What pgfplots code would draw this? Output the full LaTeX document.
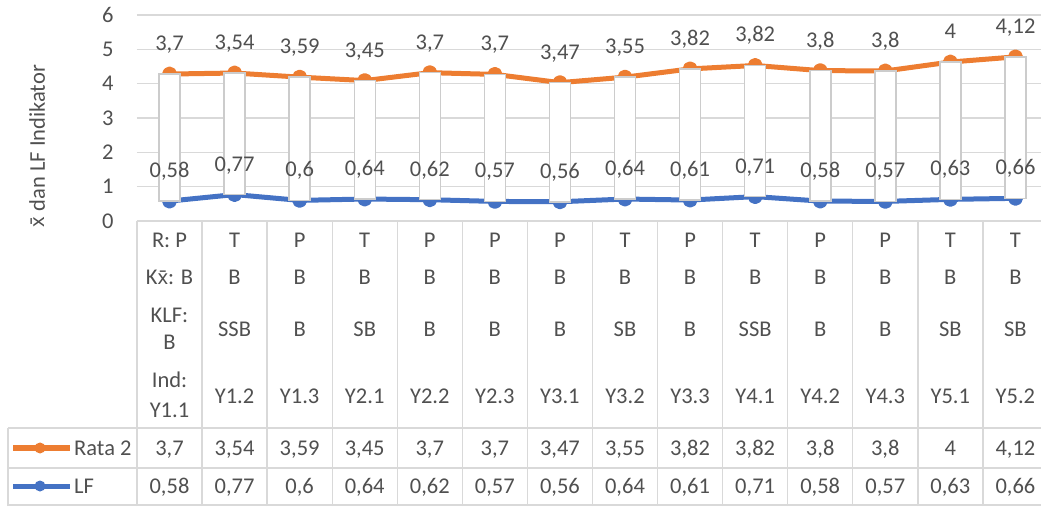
\documentclass[border=0pt]{standalone}
\usepackage{fontspec}
\setmainfont{Carlito}
\newfontfamily\xfont{Noto Sans}
\usepackage{pgfplots}
\pgfplotsset{compat=1.18}
\usepackage{pgfplotstable}
\definecolor{txt}{HTML}{505050}
\definecolor{grd}{HTML}{D9D9D9}
\definecolor{bord}{HTML}{CCCCCC}
\definecolor{org}{HTML}{ED7D31}
\definecolor{blu}{HTML}{4472C4}
\newcommand{\xbar}{{\xfont\fontsize{20}{24}\selectfont x̄}}

\pgfplotstableread{
x lf r lfl rl
0 0.58 3.70 0,58 3,7
1 0.77 3.54 0,77 3,54
2 0.60 3.59 0,6 3,59
3 0.64 3.45 0,64 3,45
4 0.62 3.70 0,62 3,7
5 0.57 3.70 0,57 3,7
6 0.56 3.47 0,56 3,47
7 0.64 3.55 0,64 3,55
8 0.61 3.82 0,61 3,82
9 0.71 3.82 0,71 3,82
10 0.58 3.80 0,58 3,8
11 0.57 3.80 0,57 3,8
12 0.63 4.00 0,63 4
13 0.66 4.12 0,66 4,12
}\data

\pgfplotsset{
  geom/.style={at={(137pt,285pt)}, anchor=south west, scale only axis,
    width=911pt, height=206pt, xmin=-0.5, xmax=13.5, ymin=0, ymax=6, clip=false},
}

\begin{document}
\begin{tikzpicture}[x=1pt,y=1pt, font=\fontsize{22.5}{27}\selectfont, text=txt]
\path[use as bounding box] (0,0) rectangle (1041,506);
\begin{scope}
\clip (0,0) rectangle (1041,506);
% axis A: grid, ticks, lines
\begin{axis}[geom,
  ytick={0,...,6}, xtick=\empty,
  axis line style={draw=none}, major tick length=0pt,
  ymajorgrids, grid style={grd, line width=1.3pt},
  yticklabel style={text=txt, anchor=east, xshift=-20pt},
  /pgf/number format/assume math mode=true,
  ylabel={\xbar\ dan LF Indikator},
  every axis y label/.style={at={(rel axis cs:-0.101,0.364)}, rotate=90, anchor=base, text=txt},
  stack plots=y]
\addplot[blu, line width=5pt, line join=round, mark=*, mark size=5pt, mark options={fill=blu, draw=none}] table[x=x, y=lf]{\data};
\addplot[org, line width=5pt, line join=round, mark=*, mark size=5pt, mark options={fill=org, draw=none}] table[x=x, y=r]{\data};
\end{axis}
% axis B: up/down bars
\begin{axis}[geom, hide axis, ybar stacked, bar width=21pt]
\addplot[draw=none, fill=none] table[x=x, y=lf]{\data};
\addplot[draw=bord, fill=white, line width=1.5pt] table[x=x, y=r]{\data};
\end{axis}
% axis C: data labels
\begin{axis}[geom, hide axis, stack plots=y, nodes near coords, point meta=explicit symbolic,
  every node near coord/.style={anchor=base, yshift=23.5pt, text=txt, font=\fontsize{22.5}{27}\selectfont}]
\addplot[draw=none, no marks] table[x=x, y=lf, meta=lfl]{\data};
\addplot[draw=none, no marks] table[x=x, y=r, meta=rl]{\data};
\end{axis}
% data table grid
\begin{scope}[draw=grd, line width=1.3pt]
\foreach \i in {0,...,14} \draw (137+65.07*\i,0) -- (137+65.07*\i,285);
\draw (8,78) -- (1041,78);
\draw (8,38) -- (1041,38);
\draw (8,1) -- (1041,1);
\draw (8,0) -- (8,78);
\end{scope}
% header cells
\node[anchor=base] at (169.5,258) {R: P};
\node[anchor=base] at (169.5,221) {K\xbar: B};
\node[anchor=base] at (169.5,183) {KLF:};
\node[anchor=base] at (169.5,156) {B};
\node[anchor=base] at (169.5,118) {Ind:};
\node[anchor=base] at (169.5,88) {Y1.1};
\foreach \i/\a/\b/\c/\d in {1/T/B/SSB/Y1.2, 2/P/B/B/Y1.3, 3/T/B/SB/Y2.1, 4/P/B/B/Y2.2,
  5/P/B/B/Y2.3, 6/P/B/B/Y3.1, 7/T/B/SB/Y3.2, 8/P/B/B/Y3.3, 9/T/B/SSB/Y4.1,
  10/P/B/B/Y4.2, 11/P/B/B/Y4.3, 12/T/B/SB/Y5.1, 13/T/B/SB/Y5.2} {
  \node[anchor=base] at (169.5+65.07*\i,258) {\a};
  \node[anchor=base] at (169.5+65.07*\i,221) {\b};
  \node[anchor=base] at (169.5+65.07*\i,169) {\c};
  \node[anchor=base] at (169.5+65.07*\i,102) {\d};
}
% value rows
\foreach \i/\r/\l in {0/{3,7}/{0,58}, 1/{3,54}/{0,77}, 2/{3,59}/{0,6}, 3/{3,45}/{0,64},
  4/{3,7}/{0,62}, 5/{3,7}/{0,57}, 6/{3,47}/{0,56}, 7/{3,55}/{0,64}, 8/{3,82}/{0,61},
  9/{3,82}/{0,71}, 10/{3,8}/{0,58}, 11/{3,8}/{0,57}, 12/{4}/{0,63}, 13/{4,12}/{0,66}} {
  \node[anchor=base] at (169.5+65.07*\i,51) {\r};
  \node[anchor=base] at (169.5+65.07*\i,13) {\l};
}
% legend keys
\draw[org, line width=5pt] (13,58) -- (70,58);
\fill[org] (40,58) circle (5.5pt);
\node[anchor=base west, inner sep=0pt] at (74,51) {Rata 2};
\draw[blu, line width=5pt] (13,20) -- (70,20);
\fill[blu] (40,20) circle (5.5pt);
\node[anchor=base west, inner sep=0pt] at (74,13) {LF};
\end{scope}
\end{tikzpicture}
\end{document}
